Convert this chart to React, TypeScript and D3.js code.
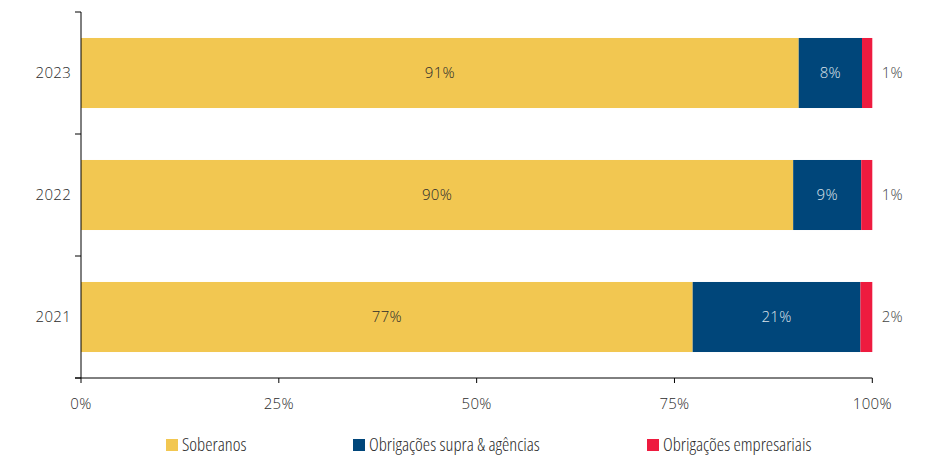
import { useRef, useEffect } from 'react';
import * as d3 from 'd3';

const years = ['2023', '2022', '2021'];
const soberanos = [90.7, 90.0, 77.3];
const supra = [8.0, 8.6, 21.2];
const empresariais = [1.3, 1.4, 1.5];
const seriesNames = ['Soberanos', 'Obrigações supra & agências', 'Obrigações empresariais'];
const seriesColors = ['#F2C751', '#00467A', '#EE1B3F'];
const xTicks = [0, 25, 50, 75, 100];

const FONT = '"Open Sans", sans-serif';

export default function App() {
  const svgRef = useRef<SVGSVGElement>(null);
  const width = 948;
  const height = 468;

  useEffect(() => {
    if (!svgRef.current) return;
    const svg = d3.select(svgRef.current);
    svg.selectAll('*').remove();

    const left = 81;
    const right = 872.3;
    const top = 12;
    const bottom = 378;

    const x = d3.scaleLinear().domain([0, 100]).range([left, right]);
    const y = d3
      .scaleBand<string>()
      .domain(years)
      .range([top, bottom])
      .paddingInner(0.426)
      .paddingOuter(0.213);
    const band = d3.scaleBand<string>().domain(years).range([top, bottom]);

    const rows = years.map((yr, i) => ({
      year: yr,
      values: [soberanos[i], supra[i], empresariais[i]],
    }));

    const numText = (sel: d3.Selection<SVGTextElement, unknown, null, undefined>) =>
      sel
        .attr('font-family', FONT)
        .attr('font-size', 15)
        .attr('font-weight', 300)
        .attr('letter-spacing', 0.3);

    // Bars
    const g = svg.append('g');
    rows.forEach((row) => {
      let acc = 0;
      row.values.forEach((v, j) => {
        const x0 = x(acc);
        const x1 = x(acc + v);
        g.append('rect')
          .attr('x', x0)
          .attr('y', y(row.year)!)
          .attr('width', x1 - x0)
          .attr('height', y.bandwidth())
          .attr('fill', seriesColors[j]);

        const cy = y(row.year)! + y.bandwidth() / 2;
        const label = `${Math.round(v)}%`;
        const t = g
          .append('text')
          .attr('x', j < 2 ? (x0 + x1) / 2 : x1 + 20)
          .attr('y', cy)
          .attr('dy', '0.35em')
          .attr('text-anchor', 'middle')
          .attr('fill', j === 0 ? '#2b2b2b' : j === 1 ? '#dde3ea' : '#444')
          .text(label);
        numText(t);
        acc += v;
      });
    });

    // Y axis
    const axes = svg.append('g').attr('stroke', '#000').attr('stroke-width', 1);
    axes.append('line').attr('x1', left).attr('x2', left).attr('y1', top).attr('y2', bottom);
    const boundaries = [...years.map((yr) => band(yr)!), bottom];
    boundaries.forEach((b) => {
      axes.append('line').attr('x1', left - 6).attr('x2', left).attr('y1', b).attr('y2', b);
    });
    years.forEach((yr) => {
      const t = svg
        .append('text')
        .attr('x', 71)
        .attr('y', y(yr)! + y.bandwidth() / 2)
        .attr('dy', '0.35em')
        .attr('text-anchor', 'end')
        .attr('fill', '#2b2b2b')
        .text(yr);
      numText(t);
    });

    // X axis
    axes.append('line').attr('x1', left - 6).attr('x2', right).attr('y1', bottom).attr('y2', bottom);
    xTicks.forEach((tk) => {
      axes.append('line').attr('x1', x(tk)).attr('x2', x(tk)).attr('y1', bottom).attr('y2', bottom + 5);
      const t = svg
        .append('text')
        .attr('x', x(tk))
        .attr('y', 404)
        .attr('dy', '0.35em')
        .attr('text-anchor', 'middle')
        .attr('fill', '#2b2b2b')
        .text(`${tk}%`);
      numText(t);
    });

    // Legend
    const legendX = [166, 353, 647];
    seriesNames.forEach((name, i) => {
      const lg = svg.append('g').attr('transform', `translate(${legendX[i]},439)`);
      lg.append('rect').attr('width', 12).attr('height', 12).attr('fill', seriesColors[i]);
      lg.append('text')
        .attr('x', 16)
        .attr('y', 6)
        .attr('dy', '0.35em')
        .attr('font-family', FONT)
        .attr('font-size', 18.5)
        .attr('font-weight', 300)
        .attr('style', 'font-stretch: 76%')
        .attr('fill', '#2b2b2b')
        .text(name);
    });
  }, []);

  return (
    <div style={{ position: 'absolute', left: 0, top: 0 }}>
      <svg ref={svgRef} width={width} height={height} style={{ display: 'block', background: '#fff' }} />
    </div>
  );
}
